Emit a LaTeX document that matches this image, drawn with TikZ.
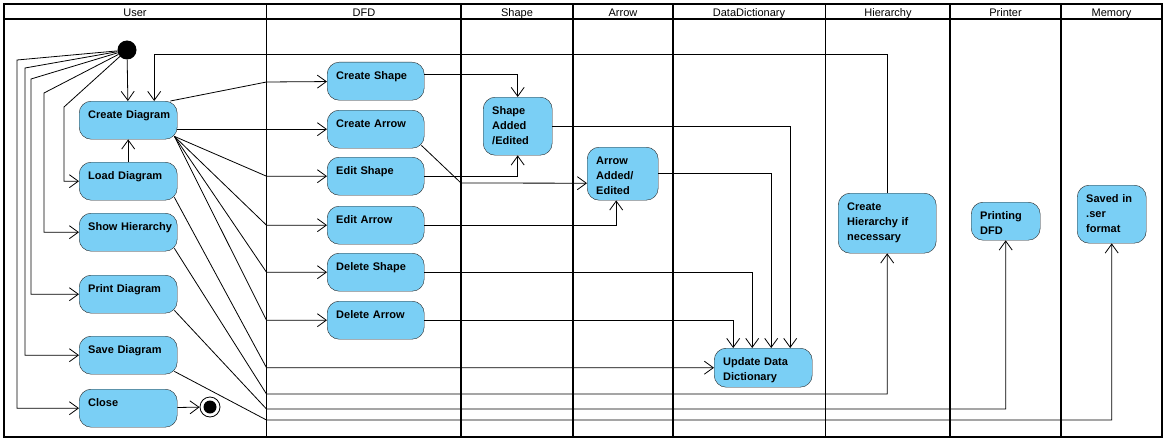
\documentclass[tikz,border=0pt]{standalone}
\usepackage{fontspec}
\setmainfont{Liberation Sans}
\usetikzlibrary{arrows.meta}
\definecolor{actblue}{RGB}{122,207,245}
\hyphenpenalty=10000
\exhyphenpenalty=10000
\begin{document}
\begin{tikzpicture}[x=1pt,y=-1pt,
  act/.style={draw=black!85, fill=actblue, rounded corners=12pt, anchor=north west,
    align=left, font=\bfseries\fontsize{11}{15}\selectfont, inner xsep=9pt, inner ysep=0pt,
    text height=17pt, text depth=21pt, text width=80pt},
  flow/.style={line width=0.8pt, -{Straight Barb[length=9pt,width=13pt]}},
  lanehead/.style={anchor=base, font=\fontsize{11}{13}\selectfont, inner sep=0pt},
  lane/.style={line width=1.8pt}]
\useasboundingbox (0,0) rectangle (1167,444);
\fill[white] (0,0) rectangle (1167,444);
\draw[lane] (4,4) rectangle (1162,437);
\draw[lane] (4,19) -- (1162,19);
\foreach \x in {266.5,461,573,673,825.5,950,1061} \draw[lane] (\x,4) -- (\x,437);
\foreach \x/\name in {135/User,364/DFD,517/Shape,623/Arrow,749/DataDictionary,888/Hierarchy,1005.5/Printer,1111.5/Memory}
  \node[lanehead] (h-\name) at (\x,16.5) {\name};
\node[circle, fill=black, inner sep=0pt, minimum size=19pt] (init) at (127,50) {};
\node[act] (cd) at (79,101) {Create~Diagram};
\node[act] (ld) at (79,162) {Load~Diagram};
\node[act] (sh) at (79,213) {Show~Hierarchy};
\node[act] (pd) at (79,275) {Print~Diagram};
\node[act] (sd) at (79,336) {Save~Diagram};
\node[act] (cl) at (79,389) {Close};
\node[circle, draw, line width=0.8pt, fill=white, inner sep=0pt, minimum size=20pt] (fin) at (210,407) {};
\fill (fin.center) circle (6.5pt);
\node[act, text width=79pt] (cs) at (327,62) {Create Shape};
\node[act, text width=79pt] (ca) at (327,110) {Create Arrow};
\node[act, text width=79pt] (es) at (327,157) {Edit Shape};
\node[act, text width=79pt] (ea) at (327,206) {Edit Arrow};
\node[act, text width=79pt] (ds) at (327,253) {Delete Shape};
\node[act, text width=79pt] (da) at (327,301) {Delete Arrow};
\node[act, text width=51pt, text depth=41pt] (sa) at (483,97) {Shape\\Added\\/Edited};
\node[act, text width=53pt, text depth=36pt] (aa) at (587,147) {Arrow\\Added/\\Edited};
\node[act, text depth=22pt] (udd) at (714,348) {Update Data\\Dictionary};
\node[act, text depth=43pt] (ch) at (838,193) {Create\\Hierarchy if\\necessary};
\node[act, text width=51pt] (pr) at (971,202) {Printing\\DFD};
\node[act, text width=51pt, text depth=41pt] (sv) at (1077,185) {Saved in\\.ser\\format};
\draw[flow] (init) -- (cd);
\draw[flow] (init) -- (64,107) |- (ld);
\draw[flow] (init) -- (44,93) |- (sh);
\draw[flow] (init) -- (31,79) |- (pd);
\draw[flow] (init) -- (25,68) |- (sd);
\draw[flow] (init) -- (17,60) |- (cl);
\draw[flow] (ld) -- (cd);
\draw[flow] (cl) -- (fin);
\draw[flow] ([xshift=-7pt]cd.north east) -- (266.5,82) -- (cs);
\draw[flow] (cd.east |- ca) -- (ca);
\coordinate (cdfan) at ([xshift=-3pt,yshift=3pt]cd.south east);
\foreach \n in {es,ea,ds,da} \draw[flow] (cdfan) -- (266.5,0 |- \n) -- (\n);
\draw[flow] ([xshift=-3pt,yshift=3pt]ld.south east) -- (266.5,0 |- udd) -- (udd);
\draw[flow] ([xshift=-3pt,yshift=3pt]sh.south east) -- (266.5,394) -| (ch);
\draw[flow] ([xshift=-3pt,yshift=3pt]pd.south east) -- (266.5,409) -| (pr);
\draw[flow] ([xshift=-3pt,yshift=3pt]sd.south east) -- (266.5,420) -| (sv);
\draw[flow] ([yshift=7pt]cs.east) -| (sa);
\draw[flow] (es) -| (sa);
\draw[flow] ([xshift=-3pt,yshift=3pt]ca.south east) -- (461,183) -- ([yshift=-9.5pt]aa.west);
\draw[flow] (ea) -| ([xshift=-6.5pt]aa.south);
\draw[flow] (sa) -| ([xshift=27pt]udd.north);
\draw[flow] (aa) -| ([xshift=8pt]udd.north);
\draw[flow] (ds) -| ([xshift=-11pt]udd.north);
\draw[flow] (da) -| ([xshift=-30pt]udd.north);
\draw[flow] (ch) -- (ch |- 0,54) -| ([xshift=26pt]cd.north);
\end{tikzpicture}
\end{document}
